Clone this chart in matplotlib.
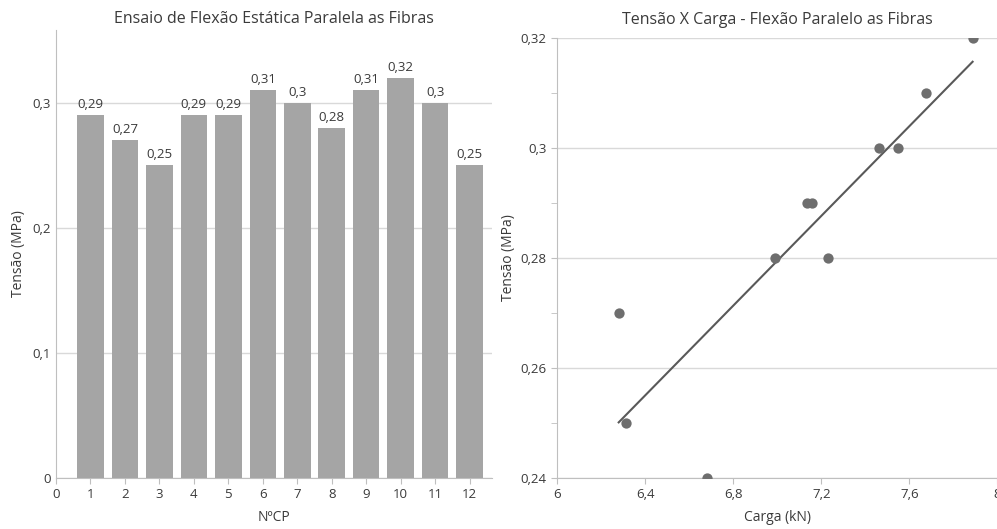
import numpy as np
import matplotlib
matplotlib.use("Agg")
import matplotlib.pyplot as plt
from matplotlib.ticker import FuncFormatter, MultipleLocator

plt.rcParams['font.family'] = ['Open Sans', 'DejaVu Sans']

# bar chart data
cp = [1, 2, 3, 4, 5, 6, 7, 8, 9, 10, 11, 12]
tensao = [0.29, 0.27, 0.25, 0.29, 0.29, 0.31, 0.30, 0.28, 0.31, 0.32, 0.30, 0.25]

# scatter data
carga = [7.887, 7.677, 7.462, 7.548, 7.137, 7.157, 6.992, 7.229, 6.28, 6.314, 6.68]
tensao_sc = [0.32, 0.31, 0.30, 0.30, 0.29, 0.29, 0.28, 0.28, 0.27, 0.25, 0.24]

txt = '#3a3a3a'
grid_c = '#d9d9d9'
spine_c = '#bfbfbf'


def virgula(v, pos=None):
    return f"{v:g}".replace('.', ',')


fig = plt.figure(figsize=(9.97, 5.29), dpi=100)

# ---- left: bars
ax1 = fig.add_axes([0.0562, 0.0964, 0.4373, 0.847])
ax1.bar(cp, tensao, width=0.77, color='#a5a5a5', zorder=3)
for x, v in zip(cp, tensao):
    ax1.text(x, v + 0.003, virgula(v), ha='center', va='bottom', fontsize=9.5, color=txt)
ax1.set_xlim(0, 12.65)
ax1.set_ylim(0, 0.358)
ax1.set_xticks(range(0, 13))
ax1.set_yticks([0, 0.1, 0.2, 0.3])
ax1.yaxis.set_major_formatter(FuncFormatter(virgula))
ax1.grid(axis='y', color=grid_c, lw=1, zorder=0)
ax1.set_title('Ensaio de Flexão Estática Paralela as Fibras', fontsize=11.5, color=txt, pad=5)
ax1.set_xlabel('NºCP', fontsize=10, color=txt, labelpad=6)
ax1.set_ylabel('Tensão (MPa)', fontsize=10, color=txt, labelpad=5)

# ---- right: scatter + trend
ax2 = fig.add_axes([0.5587, 0.0964, 0.4418, 0.8318])
ax2.scatter(carga, tensao_sc, s=55, color='#6e6e6e', zorder=4, linewidths=0)
coef = np.polyfit(carga, tensao_sc, 1)
xs = np.array([min(carga), max(carga)])
ax2.plot(xs, np.polyval(coef, xs), color='#595959', lw=1.5, zorder=3)
ax2.set_xlim(6, 8)
ax2.set_ylim(0.24, 0.32)
ax2.xaxis.set_major_locator(MultipleLocator(0.4))
ax2.yaxis.set_major_locator(MultipleLocator(0.02))
ax2.yaxis.set_minor_locator(MultipleLocator(0.01))
ax2.xaxis.set_major_formatter(FuncFormatter(virgula))
ax2.yaxis.set_major_formatter(FuncFormatter(virgula))
ax2.grid(axis='y', which='major', color=grid_c, lw=1, zorder=0)
ax2.set_title('Tensão X Carga - Flexão Paralelo as Fibras', fontsize=11.5, color=txt, pad=10)
ax2.set_xlabel('Carga (kN)', fontsize=10, color=txt, labelpad=6)
ax2.set_ylabel('Tensão (MPa)', fontsize=10, color=txt, labelpad=3)

for ax in (ax1, ax2):
    ax.set_facecolor('white')
    for s in ('top', 'right'):
        ax.spines[s].set_visible(False)
    for s in ('left', 'bottom'):
        ax.spines[s].set_color(spine_c)
    ax.tick_params(axis='both', which='both', colors=spine_c, labelcolor=txt, labelsize=9.5, length=4)
    ax.set_axisbelow(True)

ax1.tick_params(axis='y', length=0)

fig.savefig('out.png', dpi=100)
